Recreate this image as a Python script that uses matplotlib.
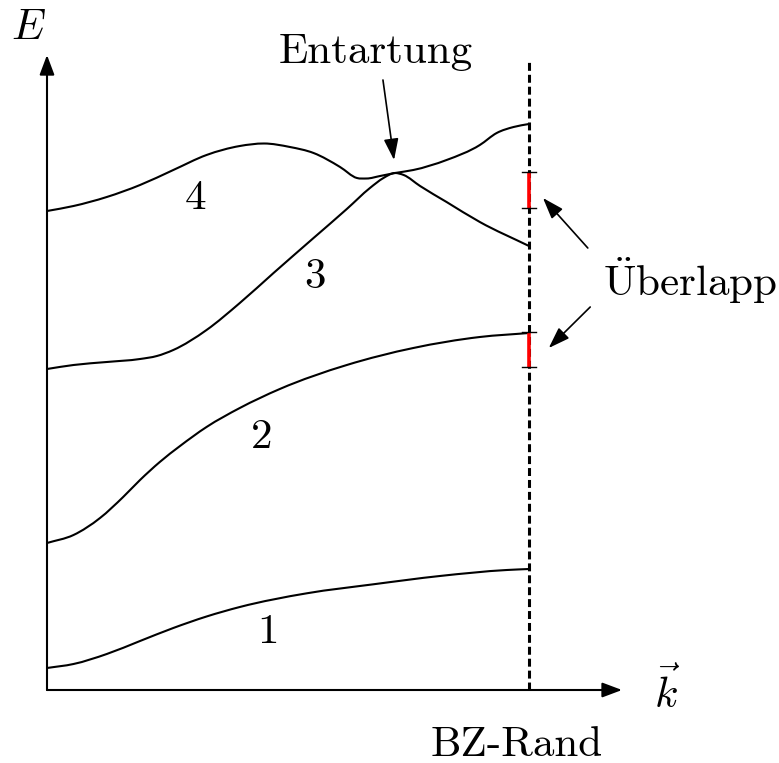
import numpy as np
import matplotlib
matplotlib.use("Agg")
import matplotlib.pyplot as plt
from matplotlib.path import Path
from matplotlib.patches import PathPatch

plt.rcParams["mathtext.fontset"] = "cm"
plt.rcParams["font.family"] = ["cmr10", "DejaVu Serif"]
plt.rcParams["axes.unicode_minus"] = False

# Band structure E(k) from Gamma (k=0) to the zone boundary (k=1)
band1_k = [0, 0.055, 0.124, 0.193, 0.262, 0.331, 0.400, 0.539, 0.677, 0.815, 0.954, 1.0]
band1_E = [0.22, 0.26, 0.36, 0.49, 0.62, 0.735, 0.83, 0.967, 1.057, 1.14, 1.20, 1.21]

band2_k = [0, 0.055, 0.110, 0.158, 0.193, 0.234, 0.276, 0.331, 0.400, 0.483, 0.622, 0.760, 0.898, 1.0]
band2_E = [1.47, 1.55, 1.72, 1.93, 2.10, 2.28, 2.44, 2.63, 2.82, 3.01, 3.25, 3.42, 3.53, 3.57]

band3_k = [0, 0.055, 0.124, 0.193, 0.228, 0.262, 0.331, 0.400, 0.470, 0.553, 0.622, 0.670,
           0.698, 0.722, 0.740, 0.774, 0.829, 0.898, 1.0]
band3_E = [3.21, 3.25, 3.28, 3.31, 3.34, 3.40, 3.60, 3.87, 4.17, 4.52, 4.81, 5.02,
           5.12, 5.17, 5.15, 5.04, 4.88, 4.68, 4.44]

band4_k = [0, 0.055, 0.124, 0.193, 0.262, 0.331, 0.400, 0.450, 0.504, 0.553, 0.608, 0.643,
           0.663, 0.691, 0.722, 0.760, 0.829, 0.898, 0.933, 0.968, 1.0]
band4_E = [4.79, 4.84, 4.93, 5.05, 5.20, 5.35, 5.44, 5.465, 5.43, 5.37, 5.23, 5.12,
           5.115, 5.14, 5.17, 5.20, 5.30, 5.45, 5.57, 5.63, 5.66]

bands = [(band1_k, band1_E), (band2_k, band2_E), (band3_k, band3_E), (band4_k, band4_E)]
band_labels = ["1", "2", "3", "4"]
band_label_pos = [(0.459, 0.58), (0.446, 2.53), (0.556, 4.13), (0.309, 4.92)]

# Energy overlap intervals at the zone boundary
overlap_low = [4.82, 3.23]
overlap_high = [5.18, 3.58]

k_bz = 1.0


def smooth_path(xs, ys):
    """Smooth curve through the points as cubic Bezier segments (Hermite tangents)."""
    x = np.asarray(xs, float)
    y = np.asarray(ys, float)
    n = len(x)
    d = np.diff(y) / np.diff(x)
    m = np.empty(n)
    m[0], m[-1] = d[0], d[-1]
    for i in range(1, n - 1):
        if d[i - 1] * d[i] <= 0:
            m[i] = 0.0
        else:
            h0, h1 = x[i] - x[i - 1], x[i + 1] - x[i]
            m[i] = (h1 * d[i - 1] + h0 * d[i]) / (h0 + h1)
    verts = [(x[0], y[0])]
    codes = [Path.MOVETO]
    for i in range(n - 1):
        h = x[i + 1] - x[i]
        verts += [(x[i] + h / 3, y[i] + m[i] * h / 3),
                  (x[i + 1] - h / 3, y[i + 1] - m[i + 1] * h / 3),
                  (x[i + 1], y[i + 1])]
        codes += [Path.CURVE4] * 3
    return Path(verts, codes)


fig = plt.figure(figsize=(7.79, 7.63), dpi=100)
ax = fig.add_axes([0, 0, 1, 1])
ax.set_xlim(-47 / 482, 732 / 482)
ax.set_ylim(-0.73, 6.90)
ax.axis("off")

fs = 31

# Bands
for (k, E) in bands:
    ax.add_patch(PathPatch(smooth_path(k, E), fill=False, lw=1.5, color="black",
                           capstyle="round", joinstyle="round"))

for lab, (x, y) in zip(band_labels, band_label_pos):
    ax.text(x, y, lab, fontsize=fs, ha="center", va="center")

# Axes with arrows
axis_kw = dict(arrowstyle="-|>,head_length=1.2,head_width=0.45",
               lw=1.5, color="black", shrinkA=0, shrinkB=0)
ax.annotate("", xy=(0, 6.35), xytext=(0, 0), arrowprops=axis_kw)
ax.annotate("", xy=(1.193, 0), xytext=(0, 0), arrowprops=axis_kw)
ax.text(-0.039, 6.62, r"$E$", fontsize=fs, ha="center", va="center")
ax.text(1.286, -0.02, r"$\vec{k}$", fontsize=fs, ha="center", va="center")

# Zone boundary
ax.plot([k_bz, k_bz], [0, 6.30], color="black", lw=2.2, ls=(0, (2.6, 1.3)))
ax.text(0.975, -0.55, "BZ-Rand", fontsize=fs, ha="center", va="center")

# Overlap intervals
tick = 0.015
for lo, hi in zip(overlap_low, overlap_high):
    ax.plot([k_bz, k_bz], [lo, hi], color="red", lw=2.6, solid_capstyle="butt", zorder=3)
    for e in (lo, hi):
        ax.plot([k_bz - tick, k_bz + tick], [e, e], color="black", lw=1.0, zorder=3)

ax.text(1.334, 4.09, r"$\mathrm{\ddot{U}berlapp}$", fontsize=fs, ha="center", va="center")
arrow_kw = dict(arrowstyle="-|>,head_length=1.3,head_width=0.45", lw=1.2,
                color="black", shrinkA=0, shrinkB=0)
ax.annotate("", xy=(1.029, 4.92), xytext=(1.122, 4.42), arrowprops=arrow_kw)
ax.annotate("", xy=(1.041, 3.42), xytext=(1.127, 3.83), arrowprops=arrow_kw)

# Degeneracy
ax.text(0.683, 6.38, "Entartung", fontsize=fs, ha="center", va="center")
ax.annotate("", xy=(0.720, 5.30), xytext=(0.697, 6.10), arrowprops=arrow_kw)

fig.savefig("out.png", dpi=100)
